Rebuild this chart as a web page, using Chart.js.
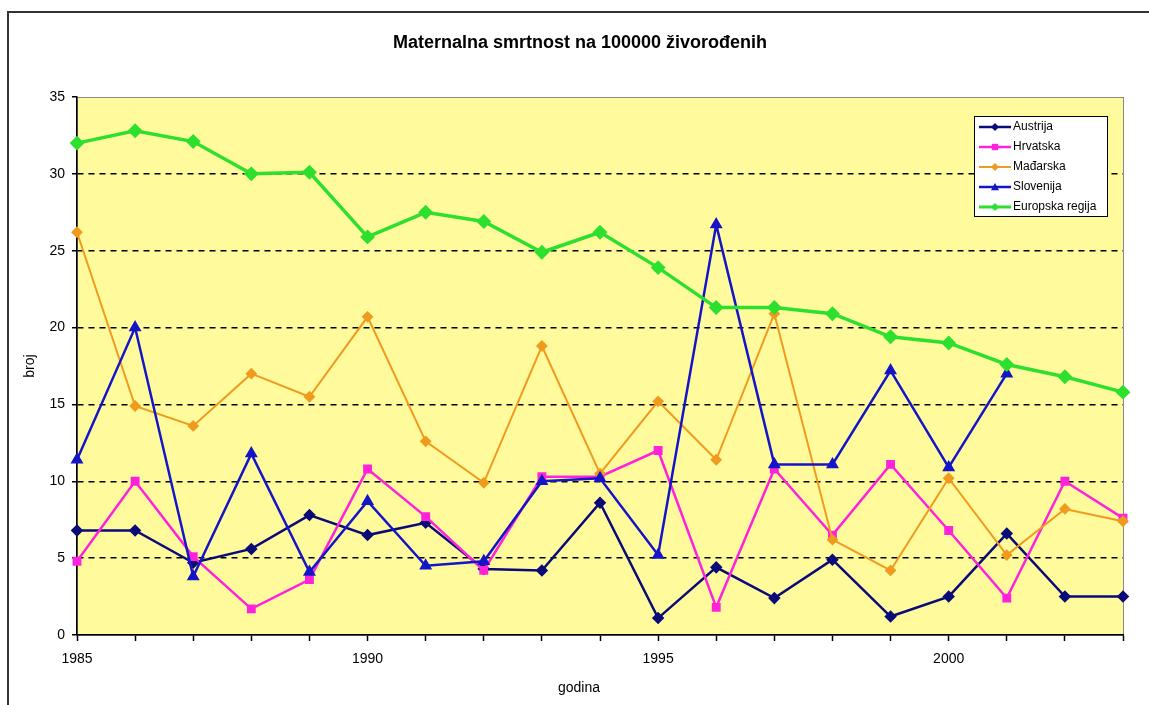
<!DOCTYPE html>
<html>
<head>
<meta charset="utf-8">
<script src="https://cdn.jsdelivr.net/npm/chart.js@4/dist/chart.umd.min.js"></script>
<style>
  html, body { margin: 0; padding: 0; background: #fff; }
  #wrap { width: 1149px; height: 705px; position: relative; }
</style>
</head>
<body>
<div id="wrap"><canvas id="chart"></canvas></div>
<script>
// --- data ---
const years = ['1985','1986','1987','1988','1989','1990','1991','1992','1993','1994',
               '1995','1996','1997','1998','1999','2000','2001','2002','2003'];

const austrija  = [6.8, 6.8, 4.7, 5.6, 7.8, 6.5, 7.3, 4.3, 4.2, 8.6, 1.1, 4.4, 2.4, 4.9, 1.2, 2.5, 6.6, 2.5, 2.5];
const hrvatska  = [4.8, 10.0, 5.1, 1.7, 3.6, 10.8, 7.7, 4.2, 10.3, 10.3, 12.0, 1.8, 10.8, 6.5, 11.1, 6.8, 2.4, 10.0, 7.6];
const madarska  = [26.2, 14.9, 13.6, 17.0, 15.5, 20.7, 12.6, 9.9, 18.8, 10.5, 15.2, 11.4, 20.9, 6.2, 4.2, 10.2, 5.2, 8.2, 7.4];
const slovenija = [11.4, 20.0, 3.8, 11.8, 4.1, 8.7, 4.5, 4.8, 10.0, 10.2, 5.2, 26.7, 11.1, 11.1, 17.2, 10.9, 17.0, null, null];
const europa    = [32.0, 32.8, 32.1, 30.0, 30.1, 25.9, 27.5, 26.9, 24.9, 26.2, 23.9, 21.3, 21.3, 20.9, 19.4, 19.0, 17.6, 16.8, 15.8];

const yTicks = [0, 5, 10, 15, 20, 25, 30, 35];

const FONT = 'Arial, "Liberation Sans", sans-serif';

// little marker painter, used for the legend
function paintMarker(ctx, style, x, y, r, color) {
    ctx.save();
    ctx.fillStyle = color;
    ctx.beginPath();
    if (style === 'rect') {
        ctx.rect(x - r * 0.8, y - r * 0.8, r * 1.6, r * 1.6);
    } else if (style === 'triangle') {
        ctx.moveTo(x, y - r);
        ctx.lineTo(x + r, y + r * 0.8);
        ctx.lineTo(x - r, y + r * 0.8);
        ctx.closePath();
    } else {
        ctx.moveTo(x, y - r);
        ctx.lineTo(x + r, y);
        ctx.lineTo(x, y + r);
        ctx.lineTo(x - r, y);
        ctx.closePath();
    }
    ctx.fill();
    ctx.restore();
}

// frame, yellow plot area, title, x title and the boxed legend
const excelLook = {
    id: 'excelLook',
    beforeDraw(chart) {
        const { ctx, chartArea: a } = chart;
        ctx.save();
        ctx.fillStyle = '#fff';
        ctx.fillRect(0, 0, chart.width, chart.height);
        ctx.strokeStyle = '#333';
        ctx.lineWidth = 2;
        ctx.strokeRect(8, 12, 1300, 900);
        ctx.fillStyle = '#FFFA9C';
        ctx.fillRect(a.left, a.top, a.right - a.left, a.bottom - a.top);
        ctx.strokeStyle = '#888';
        ctx.lineWidth = 1;
        ctx.strokeRect(a.left + 0.5, a.top + 0.5, a.right - a.left, a.bottom - a.top);

        ctx.fillStyle = '#000';
        ctx.textAlign = 'center';
        ctx.textBaseline = 'middle';
        ctx.font = 'bold 18px ' + FONT;
        ctx.fillText('Maternalna smrtnost na 100000 živorođenih', 580, 43);
        ctx.font = '14px ' + FONT;
        ctx.fillText('godina', 579, 688);
        ctx.restore();
    },
    afterDraw(chart) {
        const ctx = chart.ctx;
        const bx = 974, by = 116, bw = 133, bh = 100;
        ctx.save();
        ctx.fillStyle = '#fff';
        ctx.fillRect(bx, by, bw, bh);
        ctx.strokeStyle = '#000';
        ctx.lineWidth = 1;
        ctx.strokeRect(bx + 0.5, by + 0.5, bw, bh);
        ctx.font = '12px ' + FONT;
        ctx.textAlign = 'left';
        ctx.textBaseline = 'middle';
        chart.data.datasets.forEach((ds, i) => {
            const y = by + 11 + i * 20;
            ctx.strokeStyle = ds.borderColor;
            ctx.lineWidth = Math.min(ds.borderWidth, 3);
            ctx.beginPath();
            ctx.moveTo(979, y);
            ctx.lineTo(1011, y);
            ctx.stroke();
            paintMarker(ctx, ds.pointStyle, 995, y, 4, ds.pointBackgroundColor);
            ctx.fillStyle = '#000';
            ctx.fillText(ds.label, 1013, y);
        });
        ctx.restore();
    }
};

const series = (label, data, color, style, width, radius, order) => ({
    label: label,
    data: data,
    borderColor: color,
    backgroundColor: color,
    pointBackgroundColor: color,
    pointBorderColor: color,
    pointStyle: style,
    pointRadius: radius,
    borderWidth: width,
    tension: 0,
    order: order
});

new Chart(document.getElementById('chart'), {
    type: 'line',
    data: {
        labels: years,
        datasets: [
            series('Austrija', austrija, '#0A0A78', 'rectRot', 2.5, 4.5, 5),
            series('Hrvatska', hrvatska, '#FF22DD', 'rect', 2.5, 4.5, 4),
            series('Mađarska', madarska, '#F09A1E', 'rectRot', 2, 4.5, 3),
            series('Slovenija', slovenija, '#1515C8', 'triangle', 2.5, 5, 2),
            series('Europska regija', europa, '#2EE02E', 'rectRot', 3.5, 5, 1)
        ]
    },
    options: {
        responsive: true,
        maintainAspectRatio: false,
        animation: false,
        layout: { padding: { left: 0, top: 97, right: 26, bottom: 0 } },
        plugins: {
            legend: { display: false },
            title: { display: false },
            tooltip: { enabled: false }
        },
        scales: {
            x: {
                type: 'category',
                offset: false,
                afterFit: (s) => { s.height = 70; },
                border: { color: '#000', width: 1.5 },
                grid: {
                    drawOnChartArea: false,
                    drawTicks: true,
                    tickLength: 6,
                    tickColor: '#000',
                    tickWidth: 1.5
                },
                ticks: {
                    autoSkip: false,
                    maxRotation: 0,
                    padding: 10,
                    color: '#000',
                    font: { family: FONT, size: 14 },
                    callback: function (v) {
                        const y = Number(this.getLabelForValue(v));
                        return y % 5 === 0 ? String(y) : '';
                    }
                }
            },
            y: {
                min: 0,
                max: 35,
                afterFit: (s) => { s.width = 77; },
                afterBuildTicks: (s) => { s.ticks = yTicks.map(v => ({ value: v })); },
                border: { color: '#000', width: 1.5, dash: [6, 5] },
                grid: {
                    color: (c) => (c.tick && (c.tick.value === 0 || c.tick.value === 35)) ? 'rgba(0,0,0,0)' : '#000',
                    lineWidth: 1.5,
                    tickBorderDash: [],
                    tickLength: 5,
                    tickColor: '#000',
                    tickWidth: 1.5
                },
                ticks: {
                    padding: 7,
                    color: '#000',
                    font: { family: FONT, size: 14 }
                },
                title: {
                    display: true,
                    text: 'broj',
                    color: '#000',
                    font: { family: FONT, size: 14 },
                    padding: { top: 22, bottom: 0 }
                }
            }
        }
    },
    plugins: [excelLook]
});
</script>
</body>
</html>
